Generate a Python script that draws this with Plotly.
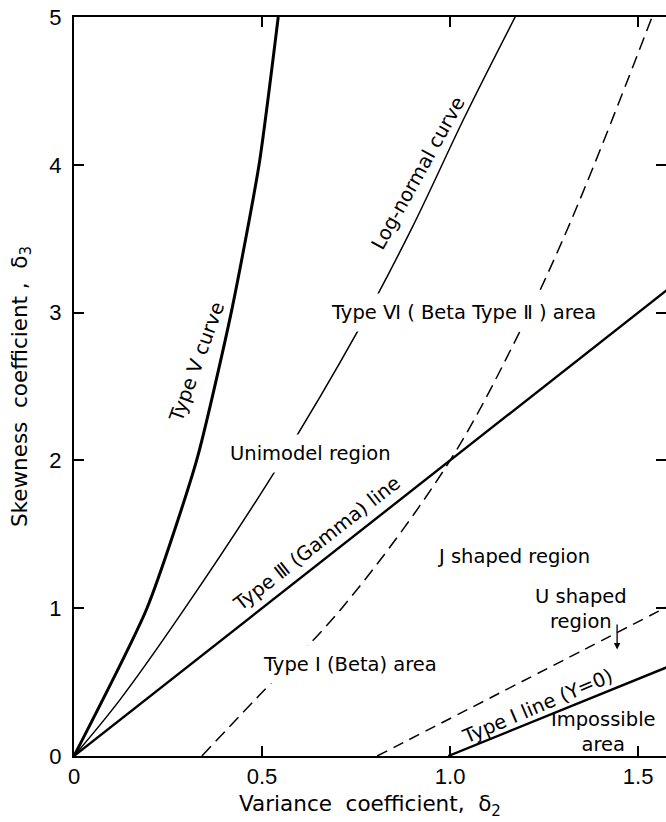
import plotly.graph_objects as go

# Variance coefficient (delta2) / skewness coefficient (delta3) curves
type5_x = [0.0, 0.194, 0.326, 0.418, 0.492, 0.543]
type5_y = [0.0, 1.0, 2.0, 3.0, 4.0, 5.0]

lognorm_x = [0.0, 0.122, 0.295, 0.54, 0.76, 0.9, 1.04, 1.173]
lognorm_y = [0.0, 0.38, 1.0, 1.95, 2.9, 3.58, 4.33, 5.0]

gamma_x = [0.0, 1.0, 1.6]
gamma_y = [0.0, 2.0, 3.2]

beta_bound_x = [0.34, 0.481, 0.712, 1.0, 1.191, 1.287, 1.383, 1.537]
beta_bound_y = [0.0, 0.38, 1.0, 2.0, 2.9, 3.42, 4.0, 5.0]

ushape_x = [0.806, 1.354, 1.6]
ushape_y = [0.0, 0.717, 1.04]

type1_line_x = [0.995, 1.6]
type1_line_y = [0.0, 0.625]

x_ticks = [0, 0.5, 1.0, 1.5]
x_tick_text = ["0", "0.5", "1.0", "1.5"]
y_ticks = [0, 1, 2, 3, 4, 5]
y_tick_text = ["0", "1", "2", "3", "4", "5"]

FONT = "DejaVu Sans"
TICK_FONT = "Liberation Sans"
INK = "black"
SP = "\u00a0"

fig = go.Figure()


def curve(x, y, width, dash="solid", shape="spline", smoothing=1.0):
    fig.add_trace(go.Scatter(
        x=x, y=y, mode="lines",
        line=dict(color=INK, width=width, dash=dash, shape=shape,
                  smoothing=smoothing),
        showlegend=False, hoverinfo="skip", cliponaxis=True,
    ))


curve(type5_x, type5_y, 3.0, smoothing=0.6)
curve(lognorm_x, lognorm_y, 1.5)
curve(gamma_x, gamma_y, 2.4, shape="linear")
curve(beta_bound_x, beta_bound_y, 1.5, dash="13px,7px")
curve(ushape_x, ushape_y, 1.5, dash="11px,7px")
curve(type1_line_x, type1_line_y, 2.4, shape="linear")

# right-hand tick marks without a boundary line
fig.add_trace(go.Scatter(x=[], y=[], yaxis="y2", showlegend=False))

# region / curve labels: (text, x, y, angle, white backing)
labels = [
    ("Type Ⅴ curve", 0.328, 2.666, -70, False),
    ("Log-normal curve", 0.915, 3.94, -61, False),
    ("Type Ⅵ ( Beta Type Ⅱ ) area", 1.035, 3.0, 0, True),
    ("Unimodel region", 0.630, 2.05, 0, True),
    ("Type Ⅲ (Gamma) line", 0.646, 1.44, -38, False),
    ("Type Ⅰ (Beta) area", 0.734, 0.616, 0, True),
    ("J shaped region", 1.168, 1.353, 0, False),
    ("U shaped<br>region", 1.349, 0.995, 0, False),
    ("Type Ⅰ line (Υ=0)", 1.232, 0.335, -23, False),
    ("Impossible<br>area", 1.407, 0.162, 0, False),
]

annotations = []
for text, x, y, ang, backed in labels:
    annotations.append(dict(
        text=text, x=x, y=y, xref="x", yref="y", showarrow=False,
        textangle=ang, font=dict(family=FONT, size=19.5, color=INK),
        bgcolor="white" if backed else "rgba(0,0,0,0)",
        borderpad=7 if backed else 0,
        xanchor="center", yanchor="middle", align="center",
    ))

# small arrow from the U shaped label down across its boundary
arrow_tail = (1.444, 0.90)
arrow_tip = (1.444, 0.72)
annotations.append(dict(
    text="", x=arrow_tip[0], y=arrow_tip[1], ax=arrow_tail[0], ay=arrow_tail[1],
    xref="x", yref="y", axref="x", ayref="y", showarrow=True,
    arrowhead=2, arrowsize=1.0, arrowwidth=1.3, arrowcolor=INK,
))

fig.update_layout(
    width=666, height=822,
    margin=dict(l=74, r=0, t=17, b=66),
    paper_bgcolor="white", plot_bgcolor="white",
    font=dict(family=FONT, size=18, color=INK),
    annotations=annotations,
    xaxis=dict(
        range=[0, 1.574], tickvals=x_ticks, ticktext=x_tick_text,
        ticks="inside", ticklen=10, tickwidth=1.5, tickcolor=INK,
        showline=True, linecolor=INK, linewidth=2, mirror="ticks",
        showgrid=False, zeroline=False,
        tickfont=dict(family=TICK_FONT, size=22, color=INK),
        title=dict(text=f"Variance{SP}{SP}coefficient,{SP}{SP}δ<sub>2</sub>",
                   font=dict(family=FONT, size=21.5, color=INK), standoff=8),
    ),
    yaxis=dict(
        range=[0, 5], tickvals=y_ticks, ticktext=y_tick_text,
        ticks="inside", ticklen=10, tickwidth=1.5, tickcolor=INK,
        showline=True, linecolor=INK, linewidth=2,
        showgrid=False, zeroline=False, ticklabelstandoff=6,
        tickfont=dict(family=TICK_FONT, size=22, color=INK),
        title=dict(text=f"Skewness{SP}{SP}coefficient{SP},{SP}{SP}δ<sub>3</sub>",
                   font=dict(family=FONT, size=21.5, color=INK), standoff=16),
    ),
    yaxis2=dict(
        overlaying="y", side="right", range=[0, 5], tickvals=[1, 2, 3, 4],
        ticks="inside", ticklen=10, tickwidth=1.5, tickcolor=INK,
        showticklabels=False, showline=False, showgrid=False, zeroline=False,
    ),
)

fig.write_html("out.html")
